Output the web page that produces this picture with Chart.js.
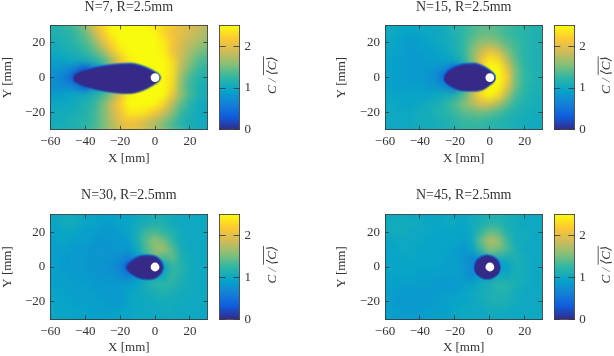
<!DOCTYPE html>
<html><head><meta charset="utf-8">
<script src="https://cdn.jsdelivr.net/npm/chart.js@4"></script>
<style>html,body{margin:0;padding:0;background:#fff;width:614px;height:356px;overflow:hidden}canvas{position:absolute;left:0;top:0;filter:blur(.3px)}</style>
</head><body>
<script>
const xGrid=[-60,-55,-50,-45,-40,-35,-30,-25,-20,-15,-10,-5,0,5,10,15,20,25,30];
const yGrid=[30,25,20,15,10,5,0,-5,-10,-15,-20,-25,-30];
const xTicks=[-60,-40,-20,0,20];
const yTicks=[-20,0,20];
const barTicks=[0,1,2];
const barRange=[0,2.5];
const parula=['#352a87','#0f5cdd','#1481d6','#06a4ca','#2eb7a4','#87bf77','#d1bb59','#fec832','#f9fb0e'];
const holeX=[0];
const holeY=[0];

const heatN7=[
[1.2,1.2,1.25,1.35,1.55,2.0,2.25,2.5,2.5,2.5,2.5,2.5,2.3,2.2,2.1,2.0,1.95,1.85,1.75],
[1.15,1.15,1.2,1.3,1.45,1.8,2.15,2.45,2.5,2.5,2.5,2.5,2.5,2.3,2.1,2.0,1.9,1.8,1.7],
[1.1,1.1,1.15,1.25,1.35,1.55,1.95,2.25,2.5,2.5,2.5,2.5,2.5,2.4,2.15,1.95,1.8,1.7,1.6],
[1.05,1.05,1.1,1.15,1.25,1.4,1.65,2.05,2.35,2.5,2.5,2.5,2.5,2.45,2.1,1.9,1.7,1.55,1.45],
[.95,.95,1.0,1.05,1.1,1.2,1.35,1.65,2.1,2.4,2.5,2.5,2.5,2.5,2.3,1.85,1.6,1.4,1.3],
[.85,.8,.75,.6,.3,.7,1.0,1.65,2.1,2.4,2.5,2.5,2.5,2.5,2.35,1.8,1.5,1.3,1.2],
[.8,.7,.55,.2,0,0,0,0,0,0,0,2.5,2.5,2.5,2.3,1.65,1.35,1.2,1.1],
[.8,.75,.7,.6,.3,.7,1.0,1.55,2.0,2.45,2.5,2.5,2.5,2.5,2.3,1.6,1.3,1.15,1.05],
[.9,.9,.95,1.0,1.05,1.15,1.3,1.55,2.0,2.45,2.5,2.5,2.5,2.5,2.1,1.6,1.35,1.15,1.05],
[1.0,1.0,1.0,1.05,1.15,1.25,1.5,1.85,2.2,2.5,2.5,2.5,2.5,2.25,1.8,1.45,1.2,1.05,1.0],
[1.05,1.05,1.05,1.1,1.15,1.3,1.5,1.8,2.1,2.4,2.4,2.35,2.15,1.9,1.6,1.3,1.15,1.05,1.0],
[1.05,1.05,1.1,1.15,1.2,1.3,1.5,1.75,2.0,2.15,2.1,1.95,1.8,1.6,1.4,1.2,1.1,1.05,1.0],
[1.1,1.1,1.1,1.15,1.2,1.3,1.45,1.65,1.85,1.95,1.9,1.75,1.6,1.45,1.3,1.2,1.1,1.05,1.05]];
const wakeXN7=[-47,-46.5,-45,-42,-37,-30,-22,-14,-8,-3,0,2,3.2];
const wakeTopN7=[0,1.6,2.8,4.1,5.4,6.8,7.8,8.2,7,5,3.3,1.9,0];
const wakeBottomN7=[0,-1.7,-3,-4.4,-6,-7.6,-8.7,-9,-7.6,-5.2,-3.4,-2,0];

const heatN15=[
[1.05,1.05,1.0,1.0,1.0,1.0,1.05,1.1,1.15,1.25,1.35,1.4,1.4,1.35,1.3,1.25,1.2,1.15,1.15],
[1.05,1.0,.95,.95,.95,1.0,1.0,1.05,1.15,1.25,1.35,1.45,1.45,1.4,1.3,1.25,1.2,1.15,1.15],
[1.0,.95,.9,.85,.9,.95,1.0,1.05,1.1,1.25,1.45,1.6,1.65,1.55,1.4,1.3,1.2,1.15,1.1],
[1.0,.95,.9,.85,.9,.9,.95,1.0,1.1,1.25,1.55,1.85,2.05,1.9,1.55,1.35,1.2,1.15,1.1],
[.95,.9,.9,.85,.85,.9,.9,.95,1.0,1.2,1.5,2.05,2.4,2.3,1.8,1.4,1.2,1.15,1.1],
[.95,.9,.9,.85,.85,.85,.8,.7,.4,1.0,1.5,2.1,2.5,2.5,2.05,1.5,1.25,1.15,1.1],
[.95,.9,.9,.85,.85,.8,.7,.35,0,0,0,2.5,2.5,2.5,2.2,1.5,1.25,1.15,1.1],
[.95,.9,.9,.9,.9,.85,.8,.7,.4,1.2,1.8,2.3,2.5,2.5,2.05,1.5,1.25,1.15,1.1],
[1.0,.95,.95,.95,.95,.95,1.0,1.05,1.15,1.35,1.8,2.3,2.5,2.3,1.75,1.35,1.2,1.1,1.1],
[1.0,1.0,.95,.95,1.0,1.05,1.1,1.2,1.35,1.55,1.75,1.95,1.95,1.75,1.45,1.25,1.15,1.1,1.05],
[1.05,1.0,1.0,1.0,1.05,1.05,1.15,1.2,1.3,1.4,1.45,1.5,1.45,1.35,1.25,1.15,1.1,1.05,1.05],
[1.05,1.0,1.0,1.0,1.05,1.05,1.1,1.15,1.2,1.3,1.3,1.3,1.25,1.2,1.15,1.1,1.05,1.05,1.0],
[1.05,1.0,1.0,1.05,1.05,1.05,1.05,1.1,1.15,1.2,1.2,1.2,1.15,1.15,1.1,1.05,1.05,1.0,1.0]];
const wakeXN15=[-26.4,-26,-25,-23,-20,-15,-9,-4.5,-1,1.5,2.8,3.2];
const wakeTopN15=[0,1.5,3,4.8,6.4,7.9,8.2,7,5,3,1.4,0];
const wakeBottomN15=[0,-1.5,-2.9,-4.6,-6.2,-7.6,-7.7,-7,-4.9,-3,-1.4,0];

const heatN30=[
[.95,1.0,1.05,1.05,1.0,.95,.95,.95,.95,.95,1.0,1.05,1.05,1.05,1.0,1.0,1.0,1.0,1.0],
[.95,1.0,1.05,1.05,.95,.95,.9,.9,.95,.95,1.05,1.1,1.15,1.15,1.05,1.0,1.0,1.0,1.0],
[.95,.95,1.0,.95,.9,.9,.85,.85,.9,.95,1.1,1.3,1.35,1.25,1.15,1.05,1.0,1.0,1.0],
[.9,.95,.95,.9,.9,.85,.8,.85,.85,.9,1.1,1.4,1.6,1.5,1.25,1.05,1.0,1.0,1.0],
[.9,.9,.9,.85,.85,.8,.8,.8,.85,.85,1.0,1.35,1.6,1.7,1.4,1.1,1.0,1.0,1.0],
[.9,.9,.85,.85,.85,.8,.8,.8,.75,.6,.9,1.2,1.5,1.3,1.45,1.15,1.05,1.0,1.0],
[.9,.9,.85,.85,.85,.8,.8,.75,.65,.35,0,0,1.0,.9,1.25,1.2,1.05,1.0,1.0],
[.9,.9,.9,.85,.85,.85,.8,.8,.75,.6,.9,1.0,1.1,1.0,1.3,1.15,1.05,1.0,1.0],
[.95,.9,.9,.9,.9,.85,.85,.85,.85,.9,.95,1.1,1.2,1.25,1.2,1.1,1.05,1.0,1.0],
[.95,.95,.9,.9,.9,.9,.85,.85,.85,.95,1.0,1.05,1.1,1.15,1.1,1.05,1.05,1.0,1.0],
[.95,.95,.95,.9,.9,.9,.9,.85,.85,.95,1.0,1.0,1.05,1.05,1.05,1.05,1.0,1.0,1.0],
[1.0,.95,.95,.95,.95,.9,.9,.9,.95,.95,1.0,1.0,1.0,1.05,1.05,1.0,1.0,1.0,1.0],
[1.0,1.0,.95,.95,.95,.95,.95,.95,.95,1.0,1.0,1.0,1.0,1.0,1.0,1.0,1.0,1.0,1.0]];
const wakeXN30=[-16.7,-16.3,-15.3,-12.5,-8.7,-4.9,-1,2.5,4.2,4.7];
const wakeTopN30=[0,1.2,2.4,4.6,6.4,6.9,6.6,4.6,2,0];
const wakeBottomN30=[0,-1.2,-2.4,-4.6,-6.5,-7,-6.7,-4.6,-2,0];

const heatN45=[
[1.0,1.0,1.0,1.0,1.0,.95,1.0,1.0,1.0,1.0,1.05,1.05,1.1,1.1,1.05,1.05,1.0,1.0,1.0],
[1.0,1.05,1.05,1.05,1.0,1.0,.95,1.0,1.0,.95,1.05,1.1,1.2,1.2,1.1,1.05,1.0,1.0,1.0],
[1.0,1.05,1.05,1.0,1.0,1.0,.95,.95,.95,.95,1.0,1.25,1.45,1.4,1.15,1.05,1.05,1.0,1.0],
[.95,1.0,1.0,1.0,1.0,.95,.95,.95,.95,.9,1.0,1.45,1.75,1.65,1.3,1.05,1.05,1.0,1.0],
[.95,.95,1.0,1.0,.95,.95,.95,.95,.9,.85,.95,1.3,1.55,1.5,1.35,1.1,1.0,1.0,1.0],
[.95,.95,.95,1.0,.95,.95,.95,.9,.9,.8,.7,.85,1.3,1.1,1.1,1.15,1.05,1.0,1.0],
[.95,.95,.95,.95,.95,.95,.95,.9,.9,.85,.7,.7,0,.9,.9,1.1,1.05,1.0,1.0],
[.9,.95,.95,.95,.9,.9,.9,.9,.9,.85,.7,.9,1.0,1.05,1.0,1.1,1.05,1.0,1.0],
[.9,.9,.9,.9,.9,.9,.85,.85,.85,.9,.95,1.05,1.1,1.2,1.2,1.1,1.05,1.0,1.0],
[.9,.9,.85,.85,.85,.85,.85,.9,.9,.95,1.0,1.05,1.1,1.15,1.15,1.05,1.0,1.0,1.0],
[.9,.85,.85,.85,.85,.85,.9,.9,.95,.95,1.0,1.05,1.1,1.15,1.1,1.05,1.0,1.0,1.0],
[.9,.9,.85,.85,.85,.9,.9,.9,.95,1.0,1.0,1.0,1.05,1.05,1.05,1.0,1.0,1.0,1.0],
[.95,.9,.9,.9,.9,.9,.95,.95,1.0,1.0,1.0,1.0,1.0,1.0,1.0,1.0,1.0,1.0,1.0]];
const wakeXN45=[-9,-8.7,-8,-6.5,-4,-1.5,1,3.5,5,5.7,6];
const wakeTopN45=[0,1.8,3.4,5,6.4,6.9,6.4,5,3.4,1.8,0];
const wakeBottomN45=[0,-1.8,-3.4,-5,-6.4,-6.9,-6.4,-5,-3.4,-1.8,0];

const serif='"Liberation Serif","DejaVu Serif",serif';
const inkColor='#333333';
const frameColor='rgba(55,60,60,0.85)';
const wakeColor=parula[0];
const rimColor='rgba(15,92,221,0.8)';

function hexRgb(h){return [1,3,5].map(i=>parseInt(h.slice(i,i+2),16));}
function colorFor(v){
  const t=Math.max(0,Math.min(1,v/barRange[1]))*(parula.length-1);
  const i=Math.min(parula.length-2,Math.floor(t)),f=t-i;
  const a=hexRgb(parula[i]),b=hexRgb(parula[i+1]);
  return 'rgb('+a.map((c,k)=>Math.round(c+(b[k]-c)*f)).join(',')+')';
}
const softenCells={id:'softenCells',afterDatasetDraw(chart,args){
  const radius=args.index===0?3:(args.index===1?0.7:0);
  if(!radius)return;
  const a=chart.chartArea,p=14,ctx=chart.ctx;
  const w=Math.round(a.right-a.left),h=Math.round(a.bottom-a.top);
  const c=document.createElement('canvas');c.width=w+2*p;c.height=h+2*p;
  const g=c.getContext('2d');
  g.drawImage(chart.canvas,a.left,a.top,w,h,0,0,w+2*p,h+2*p);
  g.drawImage(chart.canvas,a.left,a.top,w,h,p,p,w,h);
  ctx.save();ctx.beginPath();ctx.rect(a.left,a.top,w,h);ctx.clip();
  ctx.filter='blur('+radius+'px)';ctx.drawImage(c,a.left-p,a.top-p);ctx.restore();
}};
function newCanvas(){const c=document.createElement('canvas');c.width=614;c.height=356;c.style.width='614px';c.style.height='356px';document.body.appendChild(c);return c;}
function axisBase(){return {
  grid:{drawOnChartArea:false,drawTicks:true,tickLength:-4,tickColor:frameColor,z:1,lineWidth:1},
  border:{display:true,color:frameColor,width:1,z:1}};}
function tickText(v){return String(v).replace('-','\u2212');}
function fixTicks(list){return s=>{s.ticks=list.map(value=>({value}));};}

function heatPanel(title,rows,wakeX,wakeTop,wakeBottom,col,row){
  const L=col?385:50.3,R=col?542.3:207.4,T=row?214.7:25.4,B=row?319.3:129.8;
  const titleGap=row?188.8:0,xTitleGap=row?2.2:191.2,yTitleGap=col?335.2:0.8;
  const cells=[],colors=[];
  rows.forEach((vals,r)=>vals.forEach((v,k)=>{cells.push({x:xGrid[k],y:yGrid[r]});colors.push(colorFor(v));}));
  new Chart(newCanvas(),{type:'scatter',plugins:[softenCells],data:{datasets:[
    {data:cells,order:5,pointStyle:'rect',pointRadius:6.7,pointBorderWidth:0,pointBackgroundColor:colors},
    {data:wakeX.map((x,i)=>({x,y:wakeTop[i]})),order:3,showLine:true,pointRadius:0,borderColor:rimColor,borderWidth:1.6,backgroundColor:wakeColor,fill:'+1',cubicInterpolationMode:'monotone'},
    {data:wakeX.map((x,i)=>({x,y:wakeBottom[i]})),order:4,showLine:true,pointRadius:0,borderColor:rimColor,borderWidth:1.6,cubicInterpolationMode:'monotone'},
    {data:holeX.map((x,i)=>({x,y:holeY[i]})),order:1,pointStyle:'circle',pointRadius:4.4,pointBorderWidth:0,pointBackgroundColor:'#ffffff'}
  ]},options:{responsive:false,animation:false,events:[],layout:{padding:0},
    plugins:{legend:{display:false},tooltip:{enabled:false},title:{display:false}},
    scales:{
      x:{...axisBase(),type:'linear',position:'bottom',min:-60,max:30,afterBuildTicks:fixTicks(xTicks),afterFit(s){s.height=356-B;},
        ticks:{display:true,padding:8,maxRotation:0,color:inkColor,font:{family:serif,size:13},callback:tickText},
        title:{display:true,text:'X [mm]',color:inkColor,font:{family:serif,size:13,lineHeight:1},padding:{top:0,bottom:xTitleGap}}},
      x2:{...axisBase(),type:'linear',position:'top',min:-60,max:30,afterBuildTicks:fixTicks(xTicks),afterFit(s){s.height=T;},
        ticks:{display:false},
        title:{display:true,text:title,color:inkColor,font:{family:serif,size:14,lineHeight:1},padding:{top:titleGap,bottom:0}}},
      y:{...axisBase(),type:'linear',position:'left',min:-30,max:30,afterBuildTicks:fixTicks(yTicks),afterFit(s){s.width=L;},
        ticks:{display:true,padding:9,color:inkColor,font:{family:serif,size:13},callback:tickText},
        title:{display:true,text:'Y [mm]',color:inkColor,font:{family:serif,size:13,lineHeight:1},padding:{top:yTitleGap,bottom:0}}},
      y2:{...axisBase(),type:'linear',position:'right',min:-30,max:30,afterBuildTicks:fixTicks(yTicks),afterFit(s){s.width=614-R;},
        ticks:{display:false}}
    }}});
}
function barPanel(col,row){
  const L=col?554.3:219.6,R=col?574.3:239.4,T=row?214.7:25.4,B=row?319.3:129.8;
  const labelX=col?610.2:275.5,labelStart=row?283.5:94;
  const overline={id:'overlineLabel',afterDraw(chart){
    const ctx=chart.ctx;ctx.save();
    ctx.translate(labelX,labelStart);ctx.rotate(-Math.PI/2);
    ctx.fillStyle=inkColor;ctx.strokeStyle=inkColor;ctx.lineWidth=0.8;ctx.textBaseline='alphabetic';ctx.textAlign='left';
    ctx.font='italic 13px '+serif;
    const head='C / ',tail='\u27E8C\u27E9';
    ctx.fillText(head,0,0);
    const a=ctx.measureText(head).width,b=ctx.measureText(tail).width;
    ctx.fillText(tail,a,0);
    ctx.beginPath();ctx.moveTo(a,-12);ctx.lineTo(a+b,-12);ctx.stroke();
    ctx.restore();
  }};
  new Chart(newCanvas(),{type:'bar',plugins:[overline],data:{labels:['C'],datasets:[{
    data:[barRange],barPercentage:1,categoryPercentage:1,borderWidth:0,borderSkipped:false,
    backgroundColor(ctx){
      const s=ctx.chart.scales.y;
      const p0=s?s.getPixelForValue(barRange[0]):NaN,p1=s?s.getPixelForValue(barRange[1]):NaN;
      if(!isFinite(p0)||!isFinite(p1))return parula[0];
      const g=ctx.chart.ctx.createLinearGradient(0,p0,0,p1);
      parula.forEach((c,i)=>g.addColorStop(i/(parula.length-1),c));return g;
    }}]},
    options:{responsive:false,animation:false,events:[],layout:{padding:0},
      plugins:{legend:{display:false},tooltip:{enabled:false},title:{display:false}},
      scales:{
        x:{...axisBase(),type:'category',position:'bottom',afterFit(s){s.height=356-B;},ticks:{display:false},grid:{drawOnChartArea:false,drawTicks:false}},
        x2:{...axisBase(),type:'category',position:'top',afterFit(s){s.height=T;},ticks:{display:false},grid:{drawOnChartArea:false,drawTicks:false}},
        y:{...axisBase(),type:'linear',position:'left',min:barRange[0],max:barRange[1],afterBuildTicks:fixTicks(barTicks),afterFit(s){s.width=L;},ticks:{display:false},
           grid:{drawOnChartArea:false,drawTicks:true,tickLength:-6,tickColor:frameColor,z:1}},
        y2:{...axisBase(),type:'linear',position:'right',min:barRange[0],max:barRange[1],afterBuildTicks:fixTicks(barTicks),afterFit(s){s.width=614-R;},
           ticks:{display:true,padding:11,color:inkColor,font:{family:serif,size:13},callback:tickText},
           grid:{drawOnChartArea:false,drawTicks:true,tickLength:-6,tickColor:frameColor,z:1}}
      }}});
}
heatPanel('N=7, R=2.5mm',heatN7,wakeXN7,wakeTopN7,wakeBottomN7,0,0);
heatPanel('N=15, R=2.5mm',heatN15,wakeXN15,wakeTopN15,wakeBottomN15,1,0);
heatPanel('N=30, R=2.5mm',heatN30,wakeXN30,wakeTopN30,wakeBottomN30,0,1);
heatPanel('N=45, R=2.5mm',heatN45,wakeXN45,wakeTopN45,wakeBottomN45,1,1);
barPanel(0,0);barPanel(1,0);barPanel(0,1);barPanel(1,1);
</script>
</body></html>
